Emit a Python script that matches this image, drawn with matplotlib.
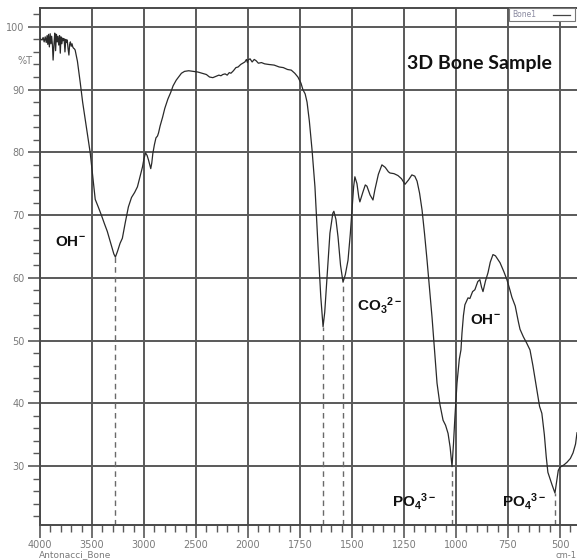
import numpy as np
import matplotlib
matplotlib.use('Agg')
import matplotlib.pyplot as plt
from matplotlib.ticker import FixedLocator, NullFormatter
from matplotlib.patches import Rectangle
from matplotlib.lines import Line2D

plt.rcParams['mathtext.fontset'] = 'custom'
plt.rcParams['mathtext.rm'] = 'Liberation Sans'
plt.rcParams['mathtext.bf'] = 'Liberation Sans:bold'
plt.rcParams['mathtext.it'] = 'Liberation Sans:italic'

# ---------------- data ----------------
wavenumber = [
    4000, 3990, 3980, 3970, 3960, 3950, 3940, 3932, 3925, 3918, 3910, 3902, 3895, 3888,
    3880, 3874, 3865, 3858, 3850, 3842, 3835, 3828, 3820, 3812, 3805, 3798, 3790, 3782,
    3775, 3768, 3760, 3752, 3745, 3738, 3730, 3722, 3715, 3708, 3700, 3692, 3685, 3678,
    3670, 3662, 3640, 3613, 3590, 3565, 3540, 3517, 3495, 3469, 3440, 3410, 3380, 3353,
    3320, 3290, 3275, 3255, 3230, 3208, 3180, 3150, 3120, 3090, 3063, 3040, 3014, 3000,
    2985, 2970, 2957, 2945, 2935, 2925, 2915, 2900, 2885, 2870, 2860, 2845, 2821, 2800,
    2770, 2744, 2720, 2690, 2667, 2640, 2610, 2570, 2530, 2483, 2440, 2400, 2370, 2338,
    2310, 2280, 2260, 2242, 2220, 2200, 2180, 2164, 2140, 2116, 2095, 2070, 2050, 2030,
    2015, 2005, 2000, 1990, 1980, 1970, 1961, 1950, 1935, 1920, 1900, 1874, 1850, 1830,
    1810, 1792, 1775, 1760, 1745, 1736, 1725, 1716, 1705, 1692, 1678, 1663, 1650, 1639,
    1631, 1620, 1606, 1592, 1587, 1577, 1567, 1555, 1543, 1532, 1519, 1508, 1500, 1492,
    1486, 1476, 1467, 1462, 1448, 1436, 1428, 1413, 1399, 1390, 1373, 1356, 1340, 1325,
    1317, 1298, 1279, 1262, 1245, 1228, 1212, 1198, 1187, 1175, 1163, 1151, 1139, 1127,
    1115, 1103, 1091, 1077, 1062, 1050, 1038, 1028, 1019, 1012, 1005, 995, 984, 976,
    971, 964, 957, 942, 933, 920, 909, 895, 885, 877, 870, 858, 846, 835,
    822, 810, 800, 788, 770, 755, 740, 731, 715, 700, 692, 676, 660, 644,
    630, 620, 611, 598, 587, 575, 566, 558, 548, 538, 524, 516, 508, 500,
    480, 466, 450, 437, 425, 418]
transmittance = [
    98.1, 98.0, 97.9, 98.3, 97.6, 98.4, 97.5, 98.6, 97.2, 98.8, 96.8, 98.9, 97.3, 98.5,
    97.0, 94.7, 97.4, 99.0, 96.2, 98.8, 97.6, 98.5, 97.1, 98.6, 95.8, 98.4, 97.3, 98.2,
    97.8, 98.1, 96.0, 98.0, 97.5, 97.9, 96.5, 95.5, 97.2, 97.6, 96.9, 97.3, 96.8, 96.6,
    96.5, 96.3, 94.5, 91.1, 88.0, 85.2, 82.5, 79.9, 76.5, 72.5, 71.3, 70.0, 68.6, 67.4,
    65.5, 63.8, 63.3, 64.2, 65.5, 66.3, 68.8, 71.3, 72.8, 73.6, 74.5, 76.0, 77.7, 79.0,
    79.9, 79.5, 78.8, 78.0, 77.4, 78.3, 79.8, 81.2, 82.3, 82.6, 83.1, 84.2, 85.6, 87.0,
    88.5, 89.5, 90.6, 91.5, 92.0, 92.6, 92.9, 93.0, 92.9, 92.8, 92.6, 92.4, 92.0, 91.9,
    92.1, 92.3, 92.2, 92.4, 92.5, 92.3, 92.7, 92.6, 93.0, 93.5, 93.6, 94.0, 94.2, 94.4,
    94.8, 94.3, 94.7, 94.9, 94.4, 94.8, 94.6, 94.2, 94.3, 94.1, 94.0, 93.9, 93.6, 93.5,
    93.2, 93.1, 92.6, 92.0, 91.0, 90.0, 89.3, 88.0, 85.0, 80.4, 74.5, 64.9, 57.0, 52.2,
    54.5, 60.1, 67.1, 70.3, 70.6, 69.3, 66.5, 62.0, 59.3, 60.5, 62.8, 67.0, 70.8, 74.5,
    76.1, 75.0, 72.8, 72.1, 73.6, 74.8, 74.6, 73.2, 72.4, 74.0, 76.5, 78.0, 77.6, 76.9,
    76.7, 76.6, 76.3, 75.8, 74.9, 75.6, 76.4, 76.2, 75.4, 73.5, 70.8, 67.0, 62.8, 58.3,
    53.7, 48.5, 43.2, 39.8, 37.3, 36.5, 35.2, 33.0, 29.9, 33.5, 37.8, 43.2, 47.0, 48.5,
    51.2, 54.0, 55.7, 56.8, 56.7, 57.8, 58.1, 59.4, 59.7, 58.5, 57.8, 59.5, 60.8, 62.5,
    63.7, 63.5, 63.0, 62.4, 61.0, 59.7, 58.0, 56.9, 55.5, 53.0, 51.8, 50.6, 49.6, 48.5,
    46.0, 44.0, 42.1, 39.5, 38.4, 35.0, 31.5, 29.0, 28.0, 27.0, 25.7, 27.5, 29.3, 29.8,
    30.2, 30.6, 31.2, 32.1, 33.5, 35.3]

# band minima marked with dashed drop lines
band_x = [3275, 1639, 1543, 1019, 524]
band_y = [63.3, 52.2, 59.3, 29.9, 25.7]

x_major = [4000, 3500, 3000, 2500, 2000, 1750, 1500, 1250, 1000, 750, 500]
y_major = [30, 40, 50, 60, 70, 80, 90, 100]

# ---------------- figure ----------------
W, H = 577, 560
fig = plt.figure(figsize=(W / 100, H / 100), dpi=100)
ax = fig.add_axes([40 / W, 1 - 525 / H, (577 - 40) / W, (525 - 8) / H])


def fwd(x):
    x = np.asarray(x, float)
    return np.where(x >= 2000, x, 2 * x - 2000)


def inv(p):
    p = np.asarray(p, float)
    return np.where(p >= 2000, p, (p + 2000) / 2)


ax.set_xscale('function', functions=(fwd, inv))
ax.set_xlim(4000, 418)
ax.set_ylim(20.6, 103.0)

grid_c = '#595959'
ax.xaxis.set_major_locator(FixedLocator(x_major))
x_minor = [v for v in range(3900, 2000, -100) if v not in x_major] + \
          [v for v in range(1950, 400, -50) if v not in x_major]
ax.xaxis.set_minor_locator(FixedLocator(x_minor))
ax.xaxis.set_minor_formatter(NullFormatter())
ax.set_xticklabels([str(v) for v in x_major])
ax.yaxis.set_major_locator(FixedLocator(y_major))
ax.yaxis.set_minor_locator(FixedLocator([v for v in range(22, 103, 2) if v % 10]))
ax.set_yticklabels([str(v) for v in y_major])

ax.grid(True, which='major', color=grid_c, lw=1.4)
ax.set_axisbelow(True)
ax.tick_params(which='major', direction='out', length=9, width=1.2, color=grid_c,
               labelsize=7, labelcolor='#7a7a7a', pad=2)
ax.tick_params(which='minor', direction='out', length=5, width=1.0, color=grid_c)
for s in ['left', 'bottom', 'top']:
    ax.spines[s].set_color('#4a4a4a')
    ax.spines[s].set_linewidth(1.4)
ax.spines['right'].set_visible(False)

ax.plot(wavenumber, transmittance, color='#2a2a2a', lw=0.9, zorder=3)

for bx, by in zip(band_x, band_y):
    ax.plot([bx, bx], [20.6, by], color='#6a6a6a', lw=1.0, dashes=(4, 3), zorder=2)


def ftext(px, py, s, **kw):
    fig.text(px / W, 1 - py / H, s, **kw)


ftext(407, 63, '3D Bone Sample', family='Lato', weight='bold', fontsize=14,
      va='center', ha='left', color='#111111')
ftext(55, 242, r'$\mathbf{OH^{-}}$', fontsize=11, va='center', ha='left', color='#111111')
ftext(357, 306, r'$\mathbf{CO_{3}{}^{2-}}$', fontsize=11, va='center', ha='left', color='#111111')
ftext(470, 319, r'$\mathbf{OH^{-}}$', fontsize=11, va='center', ha='left', color='#111111')
ftext(392, 501, r'$\mathbf{PO_{4}{}^{3-}}$', fontsize=11, va='center', ha='left', color='#111111')
ftext(502, 501, r'$\mathbf{PO_{4}{}^{3-}}$', fontsize=11, va='center', ha='left', color='#111111')

ftext(18, 61, '%T', fontsize=7, va='center', ha='left', color='#7a7a7a')
ftext(39, 555, 'Antonacci_Bone', fontsize=6.5, va='center', ha='left', color='#7a7a7a')
ftext(576, 555, 'cm-1', fontsize=6, va='center', ha='right', color='#7a7a7a')

# small legend box at top right
fig.add_artist(Rectangle((509 / W, 1 - 21 / H), (575 - 509) / W, 13 / H,
                         transform=fig.transFigure, facecolor='white',
                         edgecolor='#777777', lw=0.8, zorder=5))
ftext(512, 14.5, 'Bone1', fontsize=5.5, va='center', ha='left', color='#8a8aa0', zorder=6)
fig.add_artist(Line2D([553 / W, 570 / W], [1 - 14.5 / H, 1 - 14.5 / H],
                      transform=fig.transFigure, color='#444444', lw=0.9, zorder=6))

fig.savefig('out.png', dpi=100)
